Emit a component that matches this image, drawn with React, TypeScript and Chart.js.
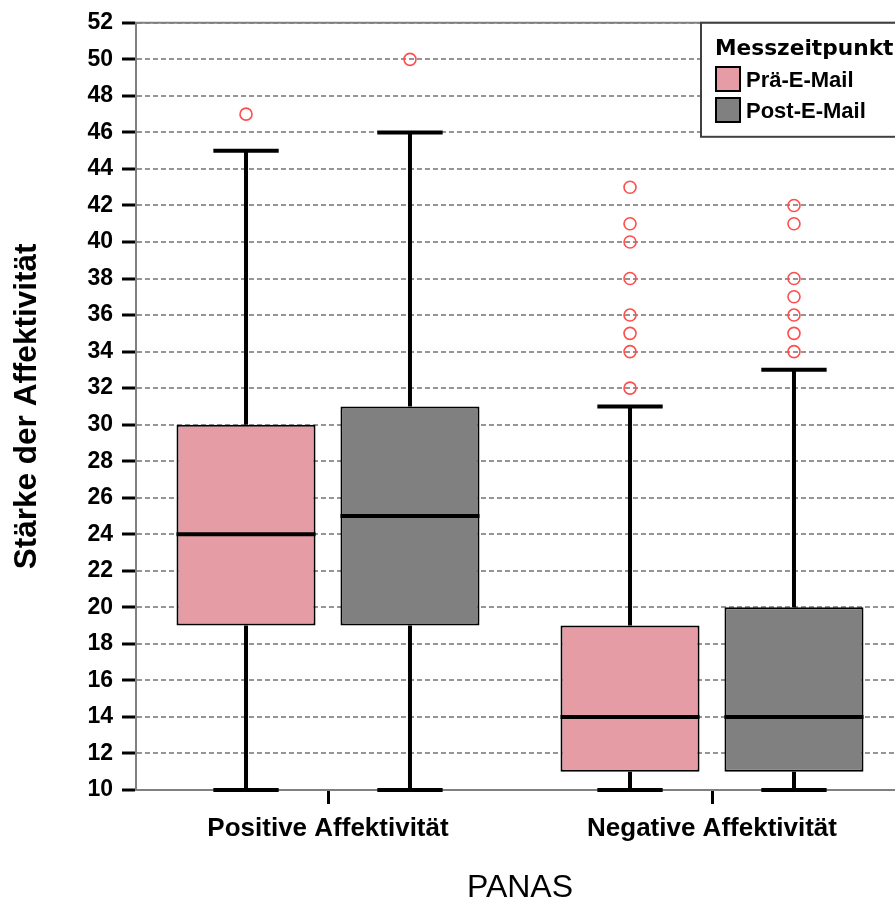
import React, { useEffect, useRef } from 'react';
import { Chart, registerables } from 'chart.js';

Chart.register(...registerables);

// ---- data ----
const categories = ['Positive Affektivität', 'Negative Affektivität'];
const seriesNames = ['Prä-E-Mail', 'Post-E-Mail'];
const seriesColors = ['#E59CA4', '#808080'];

const preMin = [10, 10];
const preQ1 = [19, 11];
const preMedian = [24, 14];
const preQ3 = [30, 19];
const preMax = [45, 31];
const preOutliers = [[47], [32, 34, 35, 36, 38, 40, 41, 43]];

const postMin = [10, 10];
const postQ1 = [19, 11];
const postMedian = [25, 14];
const postQ3 = [31, 20];
const postMax = [46, 33];
const postOutliers = [[50], [34, 35, 36, 37, 38, 41, 42]];

const yMin = 10;
const yMax = 52;
const yStep = 2;

const legendTitle = 'Messzeitpunkt';
const xTitle = 'PANAS';
const yTitle = 'Stärke der Affektivität';

const FONT = "'Liberation Sans', Arial, sans-serif";

function buildStats(mins: number[], q1: number[], med: number[], q3: number[], maxs: number[], outs: number[][]) {
  return mins.map((m, i) => ({ min: m, q1: q1[i], median: med[i], q3: q3[i], max: maxs[i], outliers: outs[i] }));
}

const boxPlugin = {
  id: 'boxWhiskers',
  beforeDatasetsDraw(chart: any) {
    const { ctx, chartArea } = chart;
    ctx.save();
    ctx.strokeStyle = '#808080';
    ctx.lineWidth = 2;
    ctx.beginPath();
    ctx.moveTo(chartArea.left - 1, chartArea.top);
    ctx.lineTo(chartArea.right, chartArea.top);
    ctx.stroke();
    ctx.restore();
  },
  afterDatasetsDraw(chart: any) {
    const { ctx } = chart;
    const ys = chart.scales.y;
    const line = (x1: number, y1: number, x2: number, y2: number) => {
      ctx.beginPath();
      ctx.moveTo(x1, y1);
      ctx.lineTo(x2, y2);
      ctx.stroke();
    };
    chart.data.datasets.forEach((ds: any, i: number) => {
      const meta = chart.getDatasetMeta(i);
      meta.data.forEach((el: any, j: number) => {
        const { x, width } = el.getProps(['x', 'width'], true);
        const st = ds.stats[j];
        const half = width / 2;
        const cap = width * 0.235;
        const pMax = ys.getPixelForValue(st.max);
        const pMin = ys.getPixelForValue(st.min);
        const pQ1 = ys.getPixelForValue(st.q1);
        const pQ3 = ys.getPixelForValue(st.q3);
        const pMed = ys.getPixelForValue(st.median);
        ctx.save();
        ctx.strokeStyle = '#000';
        ctx.lineCap = 'butt';
        ctx.lineWidth = 4;
        line(x, pQ3, x, pMax);
        line(x, pQ1, x, pMin);
        line(x - cap, pMax, x + cap, pMax);
        line(x - cap, pMin, x + cap, pMin);
        ctx.lineWidth = 4;
        line(x - half, pMed, x + half, pMed);
        ctx.strokeStyle = '#FF4D4D';
        ctx.lineWidth = 1.6;
        st.outliers.forEach((v: number) => {
          ctx.beginPath();
          ctx.arc(x, ys.getPixelForValue(v), 6, 0, Math.PI * 2);
          ctx.stroke();
        });
        ctx.restore();
      });
    });
  },
  afterDraw(chart: any) {
    const { ctx, chartArea } = chart;
    const lx = 701;
    const ly = chartArea.top;
    const lh = 114;
    ctx.save();
    ctx.fillStyle = '#fff';
    ctx.fillRect(lx, ly, chart.width - lx + 10, lh);
    ctx.strokeStyle = '#404040';
    ctx.lineWidth = 2;
    ctx.strokeRect(lx, ly, chart.width - lx + 10, lh);
    ctx.fillStyle = '#000';
    ctx.textBaseline = 'alphabetic';
    ctx.textAlign = 'left';
    ctx.font = "bold 21.7px 'DejaVu Sans', sans-serif";
    ctx.fillText(legendTitle, 715, 55);
    ctx.font = `bold 22px ${FONT}`;
    chart.data.datasets.forEach((ds: any, i: number) => {
      const sy = 67 + i * 31;
      ctx.fillStyle = ds.backgroundColor;
      ctx.fillRect(716, sy, 24, 24);
      ctx.strokeStyle = '#000';
      ctx.lineWidth = 2;
      ctx.strokeRect(716, sy, 24, 24);
      ctx.fillStyle = '#000';
      ctx.fillText(ds.label, 746, sy + 20);
    });
    ctx.restore();
  },
};

export default function App() {
  const ref = useRef<HTMLCanvasElement | null>(null);
  useEffect(() => {
    if (!ref.current) return;
    const chart = new Chart(ref.current, {
      type: 'bar',
      data: {
        labels: categories,
        datasets: [
          {
            label: seriesNames[0],
            data: preQ1.map((q, i) => [q, preQ3[i]]),
            backgroundColor: seriesColors[0],
            borderColor: '#000',
            borderWidth: 2,
            borderSkipped: false,
            stats: buildStats(preMin, preQ1, preMedian, preQ3, preMax, preOutliers),
          } as any,
          {
            label: seriesNames[1],
            data: postQ1.map((q, i) => [q, postQ3[i]]),
            backgroundColor: seriesColors[1],
            borderColor: '#000',
            borderWidth: 2,
            borderSkipped: false,
            stats: buildStats(postMin, postQ1, postMedian, postQ3, postMax, postOutliers),
          } as any,
        ],
      },
      options: {
        responsive: false,
        animation: false,
        devicePixelRatio: 1,
        categoryPercentage: 0.854,
        barPercentage: 0.848,
        layout: { padding: { left: 0, top: 21, right: 16, bottom: 0 } },
        plugins: {
          legend: { display: false },
          tooltip: { enabled: false },
        },
        scales: {
          x: {
            type: 'category',
            offset: true,
            grid: {
              display: true,
              offset: false,
              drawOnChartArea: false,
              drawTicks: true,
              tickLength: 14,
              tickColor: '#000',
              tickWidth: 3,
              tickBorderDash: [],
            },
            border: { display: true, color: '#808080', width: 2 },
            ticks: {
              color: '#000',
              font: { family: FONT, size: 26, weight: 'bold' },
              padding: 9,
              maxRotation: 0,
              autoSkip: false,
            },
            title: {
              display: true,
              text: xTitle,
              color: '#000',
              font: { family: FONT, size: 32, weight: 'normal' },
              padding: { top: 0, bottom: 3 },
            },
            afterFit(scale: any) {
              scale.height = 120;
            },
          },
          y: {
            type: 'linear',
            min: yMin,
            max: yMax,
            grid: {
              display: true,
              color: '#959595',
              lineWidth: 2,
              drawTicks: true,
              tickLength: 14,
              tickColor: '#000',
              tickWidth: 3,
              tickBorderDash: [],
            },
            border: { display: true, color: '#808080', width: 2, dash: [5, 3] },
            ticks: {
              stepSize: yStep,
              autoSkip: false,
              color: '#000',
              font: { family: FONT, size: 23, weight: 'bold' },
              padding: 9,
            },
            title: {
              display: true,
              text: yTitle,
              color: '#000',
              font: { family: FONT, size: 31.5, weight: 'bold' },
              padding: { top: 8, bottom: 0 },
            },
            afterFit(scale: any) {
              scale.width = 136;
            },
          },
        },
      } as any,
      plugins: [boxPlugin],
    });
    return () => chart.destroy();
  }, []);

  return (
    <div
      style={{
        position: 'fixed',
        left: 0,
        top: 0,
        width: 895,
        height: 902,
        overflow: 'hidden',
        background: '#fff',
      }}
    >
      <canvas ref={ref} width={920} height={910} style={{ display: 'block', width: 920, height: 910 }} />
    </div>
  );
}
